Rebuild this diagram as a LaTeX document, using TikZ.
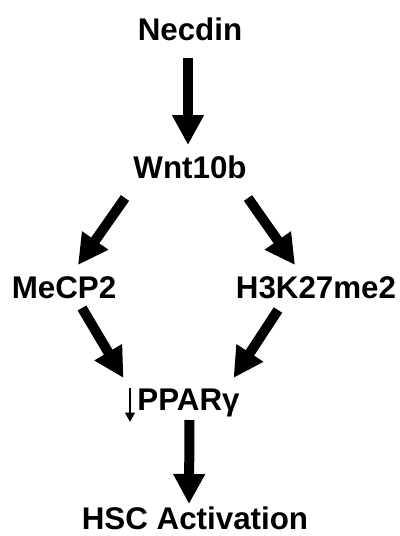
\documentclass[tikz,border=0pt]{standalone}
\usepackage{fontspec}
\setmainfont{Liberation Sans}
\usetikzlibrary{arrows.meta,calc}
\begin{document}
\begin{tikzpicture}[x=0.75pt,y=-0.75pt,
  term/.style={anchor=base,inner sep=0pt,font=\fontsize{23.5}{28}\selectfont\bfseries},
  bigarrow/.style={line width=7.5pt,-{Triangle[length=22.5pt,width=22.5pt]}},
  thinarrow/.style={line width=1.8pt,-{Triangle[length=7pt,width=7pt]}}]
  \useasboundingbox (0,0) rectangle (400,536);

  % terms, placed by their baselines
  \node[term] (necdin) at (190,40)  {Necdin};
  \node[term] (wnt)    at (190,178) {Wnt10b};
  \node[term] (mecp)   at (64,298)  {MeCP2};
  \node[term] (h3k)    at (316,298) {H3K27me2};
  \node[term] (ppar)   at (188.5,410) {PPARγ};
  \node[term] (hsc)    at (195,529) {HSC Activation};

  % pathway arrows
  \draw[bigarrow] ($(necdin.base)+(-2,18)$) -- ($(wnt.base)+(-2,-33)$);
  \draw[bigarrow] ($(wnt.base)+(-65,20)$) -- ($(mecp.base)+(14,-33)$);
  \draw[bigarrow] ($(wnt.base)+(58,20)$)  -- ($(h3k.base)+(-21,-33)$);
  \draw[bigarrow] ($(mecp.base)+(18,10)$) -- ($(ppar.base)+(-65,-32)$);
  \draw[bigarrow] ($(h3k.base)+(-38,12)$) -- ($(ppar.base)+(45,-32)$);
  \draw[bigarrow] ($(ppar.base)+(1,10)$)  -- ($(hsc.base)+(-6,-25)$);

  % small down arrow marking decreased PPARgamma
  \coordinate (downtop) at ($(ppar.base)+(-58.5,-22)$);
  \coordinate (downend) at ($(ppar.base)+(-58.5,12)$);
  \draw[thinarrow] (downtop) -- (downend);
\end{tikzpicture}
\end{document}
